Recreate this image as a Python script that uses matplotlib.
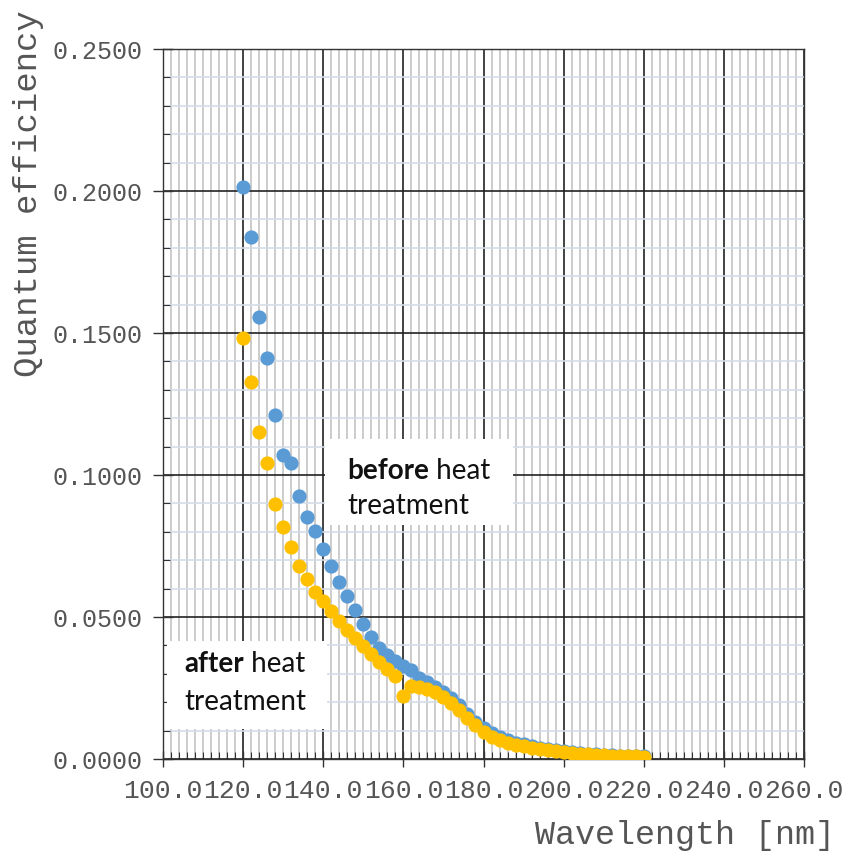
import matplotlib
matplotlib.use("Agg")
import matplotlib.pyplot as plt
from matplotlib.patches import Rectangle
from matplotlib.ticker import MultipleLocator, FormatStrFormatter

# wavelength [nm], same grid for both series
wavelength = [120, 122, 124, 126, 128, 130, 132, 134, 136, 138,
              140, 142, 144, 146, 148, 150, 152, 154, 156, 158,
              160, 162, 164, 166, 168, 170, 172, 174, 176, 178,
              180, 182, 184, 186, 188, 190, 192, 194, 196, 198,
              200, 202, 204, 206, 208, 210, 212, 214, 216, 218, 220]

qe_before = [0.2013, 0.1838, 0.1557, 0.1411, 0.1212, 0.1072, 0.1042, 0.0925, 0.0853, 0.0803,
             0.0740, 0.0680, 0.0624, 0.0574, 0.0524, 0.0476, 0.0430, 0.0392, 0.0366, 0.0346,
             0.0328, 0.0312, 0.0286, 0.0271, 0.0254, 0.0236, 0.0215, 0.0190, 0.0160, 0.0131,
             0.0108, 0.0090, 0.0077, 0.0067, 0.0058, 0.0051, 0.0045, 0.0040, 0.0035, 0.0031,
             0.0027, 0.0024, 0.0021, 0.0019, 0.0017, 0.0015, 0.0013, 0.0012, 0.0011, 0.0010, 0.0009]

qe_after = [0.1481, 0.1326, 0.1152, 0.1043, 0.0897, 0.0817, 0.0746, 0.0680, 0.0632, 0.0588,
            0.0556, 0.0520, 0.0487, 0.0455, 0.0425, 0.0397, 0.0368, 0.0341, 0.0317, 0.0292,
            0.0222, 0.0258, 0.0255, 0.0248, 0.0237, 0.0219, 0.0198, 0.0172, 0.0145, 0.0119,
            0.0096, 0.0078, 0.0066, 0.0057, 0.0050, 0.0044, 0.0039, 0.0034, 0.0030, 0.0027,
            0.0024, 0.0021, 0.0019, 0.0017, 0.0015, 0.0013, 0.0012, 0.0011, 0.0010, 0.0009, 0.0008]

MONO = "Liberation Mono"
LABEL_FONT = "Lato"
TEXT_GRAY = "#555555"
NOTE_SIZE = 20

fig = plt.figure(figsize=(8.43, 8.54), dpi=100)
ax = fig.add_axes([0.1934, 0.1101, 0.7603, 0.8314])

ax.set_xlim(100, 260)
ax.set_ylim(0, 0.25)
ax.xaxis.set_major_locator(MultipleLocator(20))
ax.xaxis.set_minor_locator(MultipleLocator(2))
ax.yaxis.set_major_locator(MultipleLocator(0.05))
ax.yaxis.set_minor_locator(MultipleLocator(0.01))
ax.xaxis.set_major_formatter(FormatStrFormatter("%.1f"))
ax.yaxis.set_major_formatter(FormatStrFormatter("%.4f"))

ax.xaxis.grid(True, which="minor", color="#c8c8c8", linewidth=1.3)
ax.yaxis.grid(True, which="minor", color="#d6dde9", linewidth=1.2)
ax.grid(True, which="major", color="#222222", linewidth=1.2)
ax.set_axisbelow(True)

for s in ax.spines.values():
    s.set_color("#333333")
    s.set_linewidth(1.0)

ax.tick_params(which="major", direction="inout", length=12, width=1.0, color="#333333",
               labelsize=19, labelcolor=TEXT_GRAY)
ax.tick_params(axis="x", which="major", pad=8)
ax.tick_params(axis="y", which="major", length=14, pad=8)
ax.tick_params(which="minor", direction="in", length=5, width=0.8, color="#333333")
for lab in ax.get_xticklabels() + ax.get_yticklabels():
    lab.set_family(MONO)
for lab in ax.get_yticklabels():
    lab.set_fontsize(18)

ax.scatter(wavelength, qe_before, s=105, color="#5b9bd5", zorder=3, linewidths=0)
ax.scatter(wavelength, qe_after, s=105, color="#ffc000", zorder=4, linewidths=0)

# annotation boxes
ax.add_patch(Rectangle((0.253, 0.329), 0.293, 0.121, transform=ax.transAxes,
                       facecolor="white", edgecolor="none", zorder=5))
ax.add_patch(Rectangle((0.006, 0.042), 0.25, 0.124, transform=ax.transAxes,
                       facecolor="white", edgecolor="none", zorder=5))


def two_tone(x, y, bold_word, rest):
    b = ax.text(x, y, bold_word, transform=ax.transAxes, fontsize=NOTE_SIZE,
                family=LABEL_FONT, fontweight="bold", color="#111111",
                ha="left", va="bottom", zorder=6)
    ax.annotate(rest, xy=(1, 0), xycoords=b, fontsize=NOTE_SIZE, family=LABEL_FONT,
                color="#111111", ha="left", va="bottom", zorder=6)


two_tone(0.287, 0.388, "before", " heat")
ax.text(0.287, 0.340, "treatment", transform=ax.transAxes, fontsize=NOTE_SIZE,
        family=LABEL_FONT, color="#111111", ha="left", va="bottom", zorder=6)

two_tone(0.034, 0.117, "after", " heat")
ax.text(0.034, 0.063, "treatment", transform=ax.transAxes, fontsize=NOTE_SIZE,
        family=LABEL_FONT, color="#111111", ha="left", va="bottom", zorder=6)

fig.text(0.99, 0.012, "Wavelength [nm]", family=MONO, fontsize=24,
         color=TEXT_GRAY, ha="right", va="baseline")
fig.text(0.034, 0.988, "Quantum efficiency", family=MONO, fontsize=24.5,
         color=TEXT_GRAY, rotation=90, ha="center", va="top")

fig.savefig("out.png", dpi=100)
